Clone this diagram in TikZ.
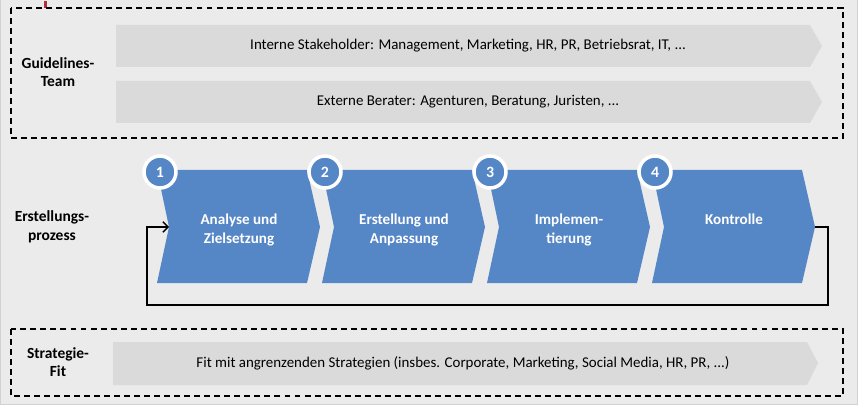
\documentclass[tikz,border=0pt]{standalone}
\usepackage{fontspec}
\setmainfont{Carlito}
\usetikzlibrary{arrows.meta}
\definecolor{bgGrey}{HTML}{EBEBEB}
\definecolor{edgeGrey}{HTML}{D2D2D2}
\definecolor{barGrey}{HTML}{DADADA}
\definecolor{stepBlue}{HTML}{5586C6}
\definecolor{markRed}{HTML}{B0303E}
\begin{document}
\begin{tikzpicture}[x=0.02cm, y=-0.02cm,
    dashbox/.style={draw=black, line width=0.9pt, dash pattern=on 3.4pt off 2.3pt},
    rowlabel/.style={font=\fontsize{8.8}{10.5}\selectfont\bfseries, align=center},
    bartext/.style={font=\fontsize{8.5}{10.2}\selectfont},
    steptext/.style={font=\fontsize{8.6}{10.8}\selectfont\bfseries, text=white, align=center, anchor=north},
    stepnum/.style={circle, fill=stepBlue, draw=white, line width=2pt, minimum size=0.64cm,
      inner sep=0pt, text=white, font=\fontsize{9}{9}\selectfont\bfseries}]

  \useasboundingbox (0,0) rectangle (858,405);
  \fill[bgGrey] (0,0) rectangle (858,405);
  \draw[edgeGrey, line width=0.6pt] (0.5,-2) -- (0.5,404.5) -- (857.5,404.5) -- (857.5,-2);
  \fill[markRed] (44,1) rectangle (46.5,8);

  % Guidelines-Team
  \draw[dashbox] (11,8) rectangle (843,138);
  \node[rowlabel] (team) at (58,72) {Guidelines-\\Team};
  \fill[barGrey] (116,25) -- (810,25) -- (822,46) -- (810,67) -- (116,67) -- cycle;
  \node[bartext] (intern) at (468,46) {Interne Stakeholder: Management, Marketing, HR, PR, Betriebsrat, IT, ...};
  \fill[barGrey] (116,81) -- (810,81) -- (822,102) -- (810,123) -- (116,123) -- cycle;
  \node[bartext] (extern) at (468,102) {Externe Berater: Agenturen, Beratung, Juristen, ...};

  % Erstellungsprozess
  \node[rowlabel] (prozess) at (52,227) {Erstellungs-\\prozess};
  \foreach \i/\L/\txt in {1/157/{Analyse und\\Zielsetzung}, 2/322/{Erstellung und\\Anpassung},
                          3/487/{Implemen-\\tierung}, 4/652/{Kontrolle}}{
    \fill[stepBlue] (\L,170) -- ++(150,0) -- ++(13,57) -- ++(-13,56) -- ++(-150,0) -- ++(12,-56) -- cycle;
    \coordinate (notch\i) at (\L+12,227);
    \coordinate (tip\i) at (\L+163,227);
    \node[steptext] (step\i) at (\L+82,208) {\txt};
    \node[stepnum] (num\i) at (\L+3,172) {\i};
  }
  \coordinate (loopR) at (828,305);
  \coordinate (loopL) at (147,305);
  \draw[line width=0.75pt, -{Straight Barb[length=3pt,width=6pt]}] (tip4) -| (loopR) -- (loopL) |- (notch1);

  % Strategie-Fit
  \draw[dashbox] (11,329) rectangle (843,396);
  \node[rowlabel] (strat) at (58,362) {Strategie-\\Fit};
  \fill[barGrey] (113,342) -- (807,342) -- (818,363) -- (807,385) -- (113,385) -- cycle;
  \node[bartext] (fit) at (463,363) {Fit mit angrenzenden Strategien (insbes. Corporate, Marketing, Social Media, HR, PR, ...)};
\end{tikzpicture}
\end{document}
